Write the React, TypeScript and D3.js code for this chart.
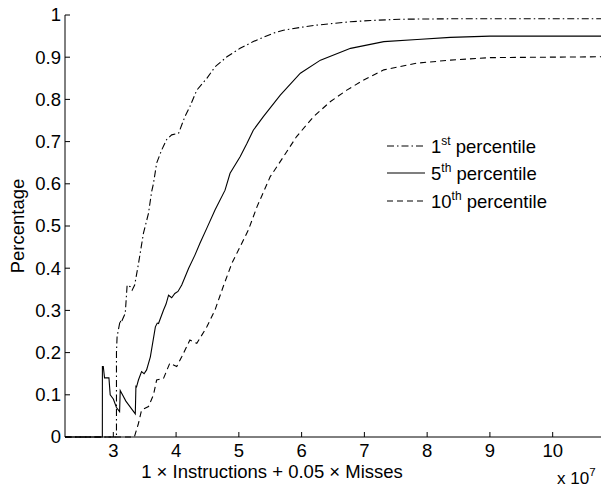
import React from "react";
import * as d3 from "d3";

const xTicks = [3, 4, 5, 6, 7, 8, 9, 10];
const yTicks = [0, 0.1, 0.2, 0.3, 0.4, 0.5, 0.6, 0.7, 0.8, 0.9, 1];
const yTickLabels = ["0", "0.1", "0.2", "0.3", "0.4", "0.5", "0.6", "0.7", "0.8", "0.9", "1"];

// 1st percentile (dash-dot)
const p1X = [2.23, 3.05, 3.05, 3.06, 3.11, 3.12, 3.19, 3.22, 3.27, 3.3, 3.34, 3.4, 3.48, 3.56, 3.61, 3.64, 3.69, 3.77, 3.85, 3.93, 4.04, 4.14, 4.22, 4.33, 4.49, 4.62, 4.81, 5.02, 5.23, 5.55, 5.71, 6.0, 6.24, 6.5, 6.78, 7.1, 7.57, 8.37, 9.2, 10.77];
const p1Y = [0, 0, 0.2, 0.238, 0.277, 0.27, 0.293, 0.36, 0.356, 0.348, 0.36, 0.41, 0.483, 0.53, 0.581, 0.601, 0.649, 0.68, 0.705, 0.716, 0.72, 0.759, 0.783, 0.822, 0.85, 0.877, 0.901, 0.921, 0.937, 0.957, 0.964, 0.971, 0.976, 0.98, 0.984, 0.987, 0.99, 0.991, 0.991, 0.991];

// 5th percentile (solid)
const p5X = [2.23, 2.825, 2.826, 2.84, 2.86, 2.93, 2.95, 3.0, 3.05, 3.1, 3.11, 3.2, 3.3, 3.35, 3.36, 3.37, 3.4, 3.45, 3.49, 3.53, 3.59, 3.67, 3.7, 3.72, 3.8, 3.84, 3.88, 3.93, 3.98, 4.03, 4.09, 4.2, 4.3, 4.38, 4.49, 4.62, 4.78, 4.86, 5.02, 5.13, 5.23, 5.39, 5.66, 5.98, 6.3, 6.78, 7.31, 7.84, 8.37, 9.0, 10.77];
const p5Y = [0, 0, 0.167, 0.167, 0.14, 0.14, 0.1, 0.09, 0.07, 0.06, 0.11, 0.085, 0.065, 0.055, 0.12, 0.119, 0.135, 0.155, 0.15, 0.159, 0.19, 0.261, 0.27, 0.269, 0.301, 0.315, 0.336, 0.33, 0.34, 0.345, 0.36, 0.4, 0.431, 0.459, 0.495, 0.538, 0.585, 0.625, 0.664, 0.696, 0.727, 0.759, 0.81, 0.862, 0.893, 0.921, 0.937, 0.942, 0.947, 0.95, 0.95];

// 10th percentile (dashed)
const p10X = [2.23, 3.335, 3.4, 3.45, 3.56, 3.64, 3.69, 3.8, 3.9, 4.01, 4.09, 4.22, 4.33, 4.49, 4.62, 4.75, 4.89, 5.02, 5.15, 5.29, 5.5, 5.71, 5.92, 6.19, 6.46, 6.72, 6.99, 7.31, 7.84, 8.37, 9.0, 10.77];
const p10Y = [0, 0, 0.032, 0.064, 0.072, 0.1, 0.135, 0.139, 0.175, 0.167, 0.19, 0.23, 0.222, 0.261, 0.301, 0.356, 0.412, 0.451, 0.49, 0.546, 0.617, 0.664, 0.712, 0.759, 0.795, 0.822, 0.846, 0.87, 0.886, 0.893, 0.899, 0.901];

const margin = { left: 65, right: 601, top: 15, bottom: 437 };

export default function App() {
  const x = d3.scaleLinear().domain([2.23, 10.77]).range([margin.left, margin.right]);
  const y = d3.scaleLinear().domain([0, 1]).range([margin.bottom, margin.top]);
  const line = d3
    .line<[number, number]>()
    .x((d) => x(d[0]))
    .y((d) => y(d[1]));
  const series = [
    { xs: p1X, ys: p1Y, dash: "7,3,1.5,3" },
    { xs: p5X, ys: p5Y, dash: "" },
    { xs: p10X, ys: p10Y, dash: "6,4" },
  ];
  const font = "'Liberation Sans', Arial, Helvetica, sans-serif";
  const fs = 18.5;
  const legend = [
    { base: "1", sup: "st", dash: "7,3,1.5,3", y: 146 },
    { base: "5", sup: "th", dash: "", y: 173 },
    { base: "10", sup: "th", dash: "6,4", y: 201 },
  ];
  return (
    <svg
      width={605}
      height={489}
      style={{ position: "absolute", left: 0, top: 0, background: "#fff" }}
      fontFamily={font}
    >
      <rect width={605} height={489} fill="#fff" />
      {series.map((s, i) => (
        <path
          key={i}
          d={line(s.xs.map((v, j) => [v, s.ys[j]] as [number, number])) || ""}
          fill="none"
          stroke="#000"
          strokeWidth={1.1}
          strokeDasharray={s.dash || undefined}
        />
      ))}
      <line x1={margin.left} x2={margin.left} y1={margin.top} y2={margin.bottom} stroke="#000" strokeWidth={1} />
      <line x1={margin.left} x2={margin.right} y1={margin.bottom} y2={margin.bottom} stroke="#000" strokeWidth={1} />
      {yTicks.map((t, i) => (
        <g key={"y" + i}>
          <line x1={margin.left} x2={margin.left + 5} y1={y(t)} y2={y(t)} stroke="#000" />
          <text x={margin.left - 4} y={y(t)} dy="0.35em" textAnchor="end" fontSize={fs}>
            {yTickLabels[i]}
          </text>
        </g>
      ))}
      {xTicks.map((t, i) => (
        <g key={"x" + i}>
          <line x1={x(t)} x2={x(t)} y1={margin.bottom} y2={margin.bottom - 5} stroke="#000" />
          <text x={x(t)} y={457} textAnchor="middle" fontSize={fs}>
            {t}
          </text>
        </g>
      ))}
      <text x={272} y={478} textAnchor="middle" fontSize={fs}>
        1 × Instructions + 0.05 × Misses
      </text>
      <text x={557} y={484} fontSize={17}>
        x 10
        <tspan dy={-8} fontSize={11.5}>7</tspan>
      </text>
      <text transform="translate(24,226) rotate(-90)" textAnchor="middle" fontSize={fs}>
        Percentage
      </text>
      {legend.map((l, i) => (
        <g key={"l" + i}>
          <line x1={387} x2={425} y1={l.y} y2={l.y} stroke="#000" strokeWidth={1.1} strokeDasharray={l.dash || undefined} />
          <text x={431} y={l.y + 7} fontSize={fs}>
            {l.base}
            <tspan dy={-8} fontSize={12}>{l.sup}</tspan>
            <tspan dy={8}> percentile</tspan>
          </text>
        </g>
      ))}
    </svg>
  );
}
